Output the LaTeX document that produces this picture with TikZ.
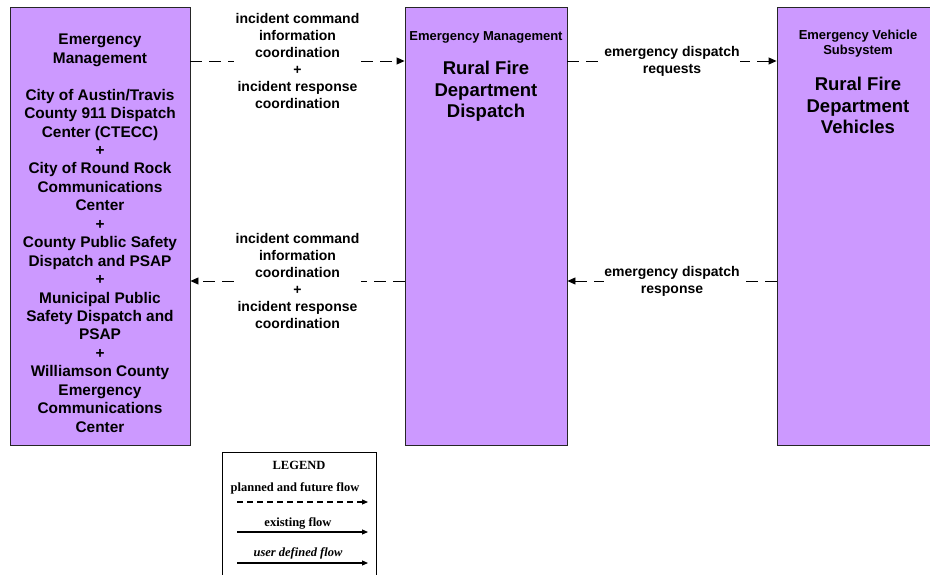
\documentclass[tikz,border=0pt]{standalone}
\usepackage{fontspec}
\setmainfont{Liberation Sans}
\newfontfamily\legendfont{Liberation Serif}
\usetikzlibrary{arrows.meta}
\definecolor{boxfill}{HTML}{CC99FF}
\tikzset{
  sysbox/.style={draw=black!85, line width=0.9pt, fill=boxfill, inner sep=0pt},
  boxtext/.style={align=center, inner sep=0pt, font=\bfseries\fontsize{15.4}{18.45}\selectfont},
  hdrtext/.style={align=center, inner sep=0pt, font=\bfseries\fontsize{13}{15}\selectfont},
  bigtext/.style={align=center, inner sep=0pt, font=\bfseries\fontsize{18.5}{21.5}\selectfont},
  flowlabel/.style={align=center, fill=white, inner sep=1.5pt, font=\bfseries\fontsize{14}{17}\selectfont},
  planned/.style={line width=0.9pt, dash pattern=on 12pt off 7pt, -{Triangle[length=8pt,width=7pt]}},
  existing/.style={line width=1.1pt, -{Triangle[length=6pt,width=5pt]}},
  legtext/.style={inner sep=0pt, font=\legendfont\bfseries\fontsize{12.5}{14}\selectfont},
}
\begin{document}
\begin{tikzpicture}[x=1pt,y=-1pt]
\useasboundingbox (0,0) rectangle (930,575);
% boxes
\node[sysbox, minimum width=180pt, minimum height=438pt] (left) at (100,226) {};
\node[sysbox, minimum width=162pt, minimum height=438pt] (mid) at (486,226) {};
\node[sysbox, minimum width=165pt, minimum height=438pt] (right) at (859.5,226) {};
% box texts
\node[boxtext, anchor=north] (lefttxt) at (100,34) {Emergency\\Management\\[18.45pt]City of Austin/Travis\\County 911 Dispatch\\Center (CTECC)\\+\\City of Round Rock\\Communications\\Center\\+\\County Public Safety\\Dispatch and PSAP\\+\\Municipal Public\\Safety Dispatch and\\PSAP\\+\\Williamson County\\Emergency\\Communications\\Center};
\node[hdrtext] (midhdr) at (486,37) {Emergency Management};
\node[bigtext] (midbig) at (486,91.5) {Rural Fire\\Department\\Dispatch};
\node[hdrtext] (righthdr) at (858,43.5) {Emergency Vehicle\\Subsystem};
\node[bigtext] (rightbig) at (858,105.5) {Rural Fire\\Department\\Vehicles};
% flows
\coordinate (ytop) at (0,61);
\coordinate (ybot) at (0,281);
\draw[planned] (left.east |- ytop) -- (mid.west |- ytop)
  node[flowlabel, midway] (l1) {incident command\\information\\coordination\\+\\incident response\\coordination};
\draw[planned] (mid.east |- ytop) -- (right.west |- ytop)
  node[flowlabel, midway, inner sep=0.5pt] (l2) {emergency dispatch\\requests};
\draw[planned] (mid.west |- ybot) -- (left.east |- ybot)
  node[flowlabel, midway] (l3) {incident command\\information\\coordination\\+\\incident response\\coordination};
\draw[planned] (right.west |- ybot) -- (mid.east |- ybot)
  node[flowlabel, midway, inner sep=0.5pt] (l4) {emergency dispatch\\response};
% legend
\node[draw=black, line width=0.9pt, fill=white, minimum width=154pt, minimum height=130pt, anchor=north west, inner sep=0pt] (legend) at (222,452) {};
\node[legtext] (legtitle) at (299,465) {LEGEND};
\node[legtext] (legplan) at (295,488) {planned and future flow};
\coordinate (p1) at (237,502); \coordinate (p2) at (368,502);
\draw[line width=1.1pt, dash pattern=on 6pt off 4pt, -{Triangle[length=6pt,width=5pt]}] (p1) -- (p2);
\node[legtext] (legexist) at (298,523) {existing flow};
\coordinate (e1) at (237,532); \coordinate (e2) at (368,532);
\draw[existing] (e1) -- (e2);
\node[legtext, font=\legendfont\bfseries\itshape\fontsize{12.5}{14}\selectfont] (leguser) at (298,553) {user defined flow};
\coordinate (u1) at (237,563); \coordinate (u2) at (368,563);
\draw[existing] (u1) -- (u2);
\end{tikzpicture}
\end{document}
